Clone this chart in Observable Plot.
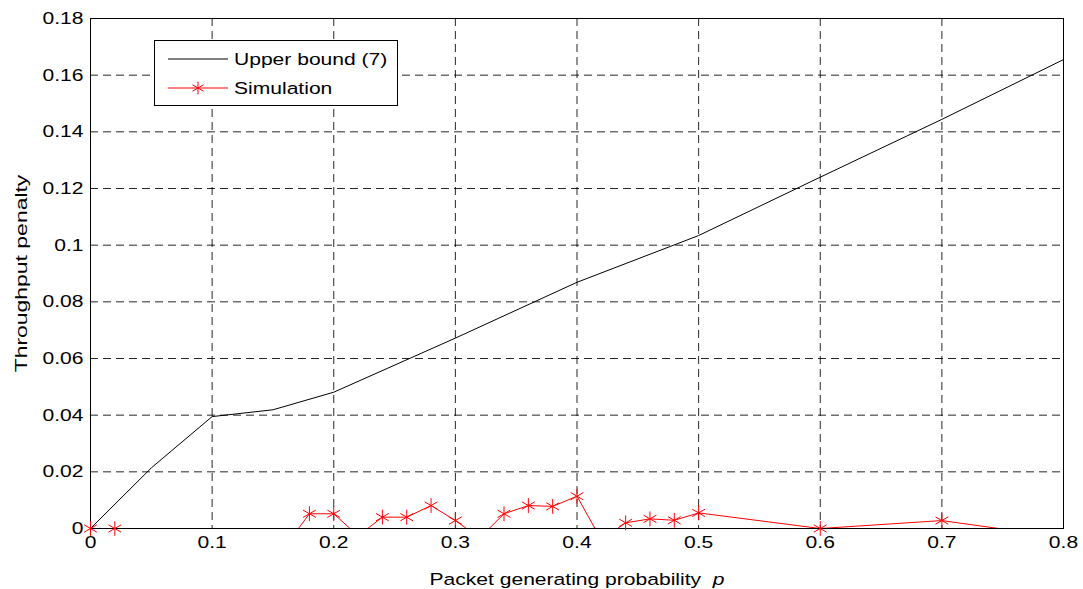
<!DOCTYPE html>
<html><head><meta charset="utf-8">
<script src="https://cdn.jsdelivr.net/npm/d3@7"></script>
<script src="https://cdn.jsdelivr.net/npm/@observablehq/plot@0.6"></script>
<style>
body{margin:0;background:#fff;font-family:"Liberation Sans",Arial,sans-serif;}
#wrap{position:relative;width:1083px;height:589px;}
#legend{position:absolute;left:154px;top:40px;width:244px;height:66px;border:1px solid #000;background:#fff;box-sizing:border-box;}
#legend svg{position:absolute;left:0;top:0;}
</style></head><body><div id="wrap"></div>
<script>
// Upper bound (7)
const boundP = [0, 0.05, 0.1, 0.15, 0.2, 0.3, 0.4, 0.5, 0.6, 0.7, 0.8];
const boundV = [0, 0.0214, 0.0395, 0.0419, 0.0481, 0.0672, 0.0869, 0.1034, 0.124, 0.1444, 0.1655];
// Simulation
const simP = [0, 0.02, 0.16, 0.18, 0.2, 0.22, 0.24, 0.26, 0.28, 0.3, 0.32, 0.34, 0.36, 0.38, 0.4, 0.42, 0.44, 0.46, 0.48, 0.5, 0.6, 0.7, 0.8];
const simV = [0, 0, -0.0063, 0.0052, 0.0052, -0.0026, 0.004, 0.004, 0.0081, 0.0028, -0.0033, 0.0052, 0.0081, 0.0078, 0.0114, -0.004, 0.002, 0.0034, 0.0029, 0.0055, 0, 0.0028, -0.0032];
const xTicks = [0, 0.1, 0.2, 0.3, 0.4, 0.5, 0.6, 0.7, 0.8];
const yTicks = [0, 0.02, 0.04, 0.06, 0.08, 0.1, 0.12, 0.14, 0.16, 0.18];
const seriesNames = ["Upper bound (7)", "Simulation"];
const xLabel = "Packet generating probability  ";
const yLabel = "Throughput penalty";

const bound = boundP.map((p, i) => ({p, v: boundV[i]}));
const sim = simP.map((p, i) => ({p, v: simV[i]}));
const fmt = d => String(+d.toFixed(2));
const font = '"Liberation Sans", Arial, sans-serif';

const plot = Plot.plot({
  width: 1083, height: 589,
  marginLeft: 90, marginRight: 20, marginTop: 18, marginBottom: 61,
  style: {fontFamily: font, fontSize: "17px", background: "white", color: "black", overflow: "visible"},
  x: {domain: [0, 0.8], ticks: xTicks, tickFormat: fmt, tickSize: 0, tickPadding: 7,
      label: xLabel + "p", labelAnchor: "center", labelOffset: 56, labelArrow: "none"},
  y: {domain: [0, 0.18], ticks: yTicks, tickFormat: fmt, tickSize: 0, tickPadding: 7,
      label: yLabel, labelAnchor: "center", labelOffset: 76, labelArrow: "none"},
  marks: [
    Plot.gridX(xTicks.slice(1, -1), {stroke: "#000", strokeOpacity: 0.85, strokeDasharray: "8,5"}),
    Plot.gridY(yTicks.slice(1, -1), {stroke: "#000", strokeOpacity: 0.85, strokeDasharray: "8,5"}),
    Plot.frame({stroke: "#000", strokeWidth: 1}),
    Plot.line(bound, {x: "p", y: "v", stroke: "#000", strokeWidth: 1}),
    Plot.line(sim, {x: "p", y: "v", stroke: "#ff0000", strokeWidth: 1, clip: true}),
    Plot.dot(sim.filter(d => d.v >= 0), {x: "p", y: "v", symbol: "asterisk", stroke: "#ff0000", r: 7, strokeWidth: 1})
  ]
});

// stretch text horizontally (wide font in the reference)
plot.querySelectorAll("text").forEach(t => {
  const g = t.closest("g");
  const lab = g && g.getAttribute("aria-label") || "";
  const s = lab.startsWith("y-axis label") ? 1.35 : 1.24;
  const tr = t.getAttribute("transform") || "";
  t.setAttribute("transform", tr + ` scale(${s},1)`);
});
const yl = plot.querySelector('g[aria-label="y-axis label"] text');
if (yl) yl.textContent = yLabel;
const xl = plot.querySelector('g[aria-label="x-axis label"] text');
if (xl) {
  xl.textContent = xLabel;
  const ts = document.createElementNS("http://www.w3.org/2000/svg", "tspan");
  ts.setAttribute("font-style", "italic");
  ts.textContent = "p";
  xl.appendChild(ts);
}

const wrap = document.getElementById("wrap");
wrap.appendChild(plot);

// legend
const leg = document.createElement("div");
leg.id = "legend";
leg.innerHTML = `<svg width="244" height="66" style="font-family:${font.replace(/"/g,"'")};font-size:17px">
  <line x1="13" x2="73" y1="18" y2="18" stroke="#000" stroke-width="1"/>
  <text x="0" y="0" transform="translate(79,24) scale(1.24,1)">${seriesNames[0]}</text>
  <line x1="13" x2="73" y1="47" y2="47" stroke="#f00" stroke-width="1"/>
  <path transform="translate(43,47)" d="${d3.symbol(d3.symbolAsterisk, Math.PI*36)()}" stroke="#f00" fill="none"/>
  <text x="0" y="0" transform="translate(79,53) scale(1.24,1)">${seriesNames[1]}</text>
</svg>`;
wrap.appendChild(leg);
</script>
</body></html>
